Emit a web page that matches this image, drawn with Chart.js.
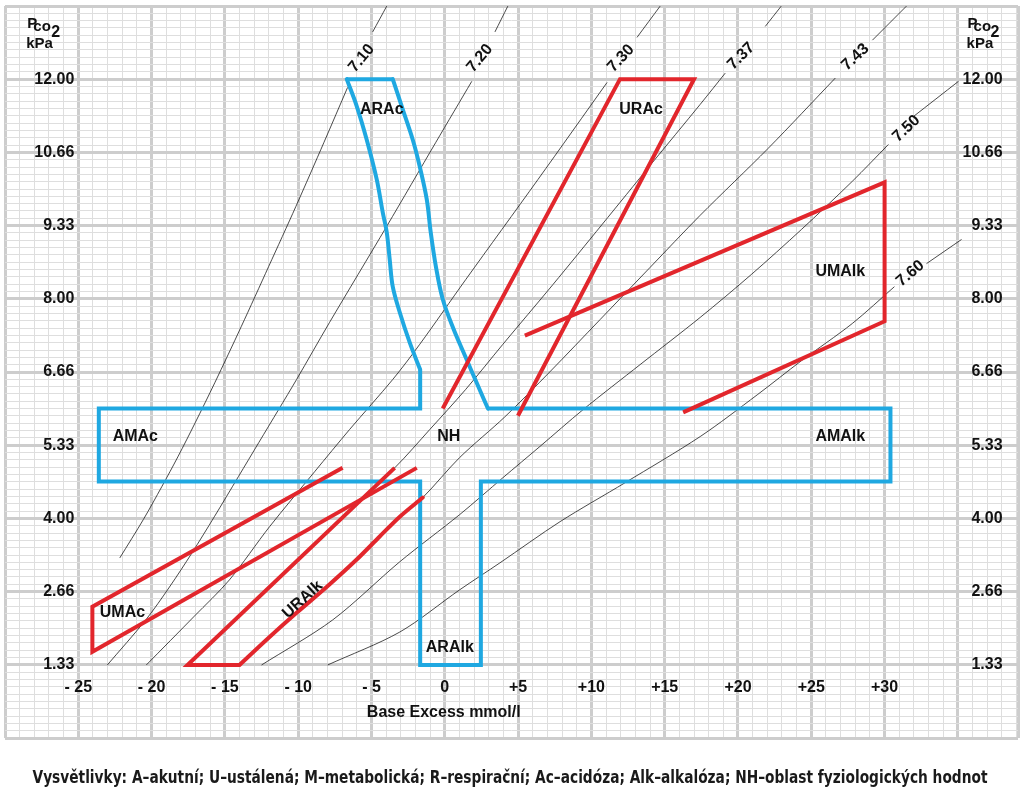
<!DOCTYPE html>
<html>
<head>
<meta charset="utf-8">
<script src="https://cdn.jsdelivr.net/npm/chart.js@4.4.0/dist/chart.umd.min.js"></script>
<style>
  html, body { margin: 0; padding: 0; background: #fff; }
  canvas { display: block; }
</style>
</head>
<body>
<canvas id="canvas" width="1024" height="798"></canvas>
<script>
// x = base excess (mmol/l), y = Pco2 (kPa)
var xTicks = [-25, -20, -15, -10, -5, 0, 5, 10, 15, 20, 25, 30];
var xTickLabels = ['- 25', '- 20', '- 15', '- 10', '- 5', '0', '+5', '+10', '+15', '+20', '+25', '+30'];
var yTicks = [1.333, 2.666, 4.0, 5.333, 6.666, 8.0, 9.333, 10.666, 12.0];
var yTickLabels = ['1.33', '2.66', '4.00', '5.33', '6.66', '8.00', '9.33', '10.66', '12.00'];

// pH isopleths (null = break under the label)
var ph710 = [[-3.96,13.33],[-4.92,12.86],null,[-6.63,11.85],[-8.24,10.85],[-10.16,9.68],[-12.01,8.59],[-13.89,7.49],[-15.69,6.47],[-17.03,5.74],[-18.21,5.12],[-19.30,4.58],[-20.56,3.98],[-22.17,3.28]];
var ph720 = [[4.30,13.33],[3.42,12.86],null,[1.84,11.96],[-0.61,10.85],[-3.96,9.32],[-7.86,7.57],[-10.11,6.53],[-11.34,5.98],[-12.69,5.38],[-14.08,4.76],[-15.72,4.03],[-17.25,3.37],[-18.78,2.75],[-20.40,2.15],[-23.02,1.33]];
var ph730 = [[14.69,13.33],[13.11,12.76],null,[11.07,11.94],[6.35,10.17],[1.43,8.35],[-1.71,7.17],[-3.55,6.53],[-6.49,5.62],[-8.88,4.85],[-11.95,3.85],[-14.69,2.88],[-17.08,2.22],[-20.36,1.33]];
var ph737 = [[22.95,13.33],[21.86,12.96],null,[19.13,12.11],[17.42,11.54],[14.07,10.45],[10.72,9.35],[7.38,8.26],[3.96,7.17],[1.43,6.35],[-1.02,5.62],[-3.42,4.92],[-10.59,3.10],[-17.55,1.33]];
var ph743 = [[31.49,13.33],[29.17,12.71],null,[26.64,12.02],[22.06,10.74],[17.42,9.52],[14.00,8.57],[10.59,7.62],[7.17,6.67],[4.10,5.85],[1.02,5.11],[-1.50,4.38],[-3.07,4.03],[-4.44,3.67],[-6.01,3.25],[-8.06,2.75],[-10.11,2.28],[-12.16,1.79],[-14.00,1.33]];
var ph750 = [[35.04,11.96],[31.97,11.32],null,[30.26,10.81],[27.80,10.14],[24.32,9.26],[20.90,8.44],[17.42,7.66],[13.32,6.80],[9.43,5.98],[6.49,5.31],[3.96,4.74],[1.02,4.07],[-3.07,3.21],[-7.65,2.15],[-12.50,1.33]];
var ph760 = [[35.25,9.08],[32.86,8.64],null,[30.67,8.22],[27.80,7.55],[24.32,6.87],[21.31,6.25],[17.42,5.49],[12.30,4.65],[7.86,3.94],[3.76,3.19],[1.02,2.70],[-3.07,1.93],[-7.99,1.33]];
var phNames = ['7.10', '7.20', '7.30', '7.37', '7.43', '7.50', '7.60'];

// acute zones (blue): AMAc / NH / AMAlk band with ARAlk below, ARAc above
var blueBand = [[2.94,6.0],[30.4,6.0],[30.4,4.67],[2.46,4.67],[2.46,1.33],[-1.68,1.33],[-1.68,4.67],[-23.6,4.67],[-23.6,6.0],[-1.68,6.0],[-1.68,6.71]];
var aracTop = [[-6.69,12.0],[-3.55,12.0]];
var aracRight = [[-3.55,12.0],[-2.87,11.45],[-2.19,10.90],[-1.71,10.41],[-1.23,9.81],[-0.96,9.21],[-0.61,8.59],[-0.14,7.99],[0.61,7.44],[1.43,6.93],[2.19,6.46],[2.94,6.0]];
var aracLeft = [[-1.68,6.71],[-2.39,7.20],[-3.07,7.75],[-3.55,8.22],[-3.76,8.72],[-3.96,9.21],[-4.23,9.57],[-4.64,10.17],[-5.33,10.90],[-6.01,11.51],[-6.69,12.0]];
// steady-state zones (red)
var zoneURAc = [[-0.14,6.0],[11.95,12.0],[17.0,12.0],[4.99,5.87]];
var zoneUMAlk = [[5.46,7.33],[30.0,10.12],[30.0,7.59],[16.26,5.93]];
var zoneUMAc = [[-6.97,4.92],[-24.04,2.39],[-24.04,1.57],[-1.91,4.92]];
var uralkEdge = [[-3.42,4.92],[-17.55,1.33],[-14.0,1.33]];
var uralkCurve = [[-14.0,1.33],[-12.16,1.79],[-10.11,2.28],[-8.06,2.75],[-6.01,3.25],[-4.44,3.67],[-3.07,4.03],[-1.50,4.38]];

var kPaPerMmHg = 0.133322;
var RED = '#e2262c';
var BLUE = '#1fa8e1';
var FONT = '"Liberation Sans", Arial, Helvetica, sans-serif';

var phLabelPos = [
   { be: -5.67, kpa: 12.38, rot: -50 },
   { be: 2.39, kpa: 12.38, rot: -50 },
   { be: 12.02, kpa: 12.38, rot: -47 },
   { be: 20.22, kpa: 12.42, rot: -45 },
   { be: 28.01, kpa: 12.40, rot: -43 },
   { be: 31.49, kpa: 11.10, rot: -43 },
   { be: 31.76, kpa: 8.46, rot: -40 }
];
var zoneLabels = [
   { text: 'ARAc', be: -4.30, kpa: 11.45, rot: 0 },
   { text: 'URAc', be: 13.39, kpa: 11.45, rot: 0 },
   { text: 'UMAlk', be: 26.98, kpa: 8.50, rot: 0 },
   { text: 'AMAc', be: -21.11, kpa: 5.49, rot: 0 },
   { text: 'NH', be: 0.27, kpa: 5.49, rot: 0 },
   { text: 'AMAlk', be: 26.98, kpa: 5.49, rot: 0 },
   { text: 'UMAc', be: -21.99, kpa: 2.28, rot: 0 },
   { text: 'URAlk', be: -9.70, kpa: 2.52, rot: -42 },
   { text: 'ARAlk', be: 0.34, kpa: 1.64, rot: 0 }
];
var footnote = 'Vysvětlivky: A–akutní; U–ustálená; M–metabolická; R–respirační; Ac–acidóza; Alk–alkalóza; NH–oblast fyziologických hodnot';

function pts(list) {
   return list.map(function (p) { return p ? { x: p[0], y: p[1] } : { x: null, y: null }; });
}

function outline(list, color, order, tension) {
   return {
      data: pts(list), showLine: true, borderColor: color, borderWidth: 4, pointRadius: 0,
      borderJoinStyle: 'miter', borderCapStyle: tension ? 'round' : 'butt', tension: tension || 0, order: order
   };
}

var datasets = [
   outline(zoneURAc, RED, 0),
   outline(zoneUMAlk, RED, 0),
   outline(zoneUMAc, RED, 0),
   outline(uralkEdge, RED, 0),
   outline(uralkCurve, RED, 0, 0.3),
   outline(blueBand, BLUE, 1),
   outline(aracTop, BLUE, 1),
   outline(aracRight, BLUE, 1, 0.35),
   outline(aracLeft, BLUE, 1, 0.35)
];
[ph710, ph720, ph730, ph737, ph743, ph750, ph760].forEach(function (l) {
   datasets.push({ data: pts(l), showLine: true, borderColor: 'rgba(30,30,30,0.8)', borderWidth: 1, pointRadius: 0, tension: 0.3, order: 2 });
});

var whiteBg = {
   id: 'whiteBg',
   beforeDraw: function (chart) {
      var c = chart.ctx;
      c.save();
      c.fillStyle = '#fff';
      c.fillRect(0, 0, chart.width, chart.height);
      c.restore();
   }
};

var nomogramText = {
   id: 'nomogramText',
   afterDatasetsDraw: function (chart) {
      var c = chart.ctx, xs = chart.scales.x, ys = chart.scales.y;
      function px(be) { return xs.getPixelForValue(be); }
      function py(k) { return ys.getPixelForValue(k); }
      c.save();
      c.fillStyle = '#111';
      c.font = 'bold 16px ' + FONT;

      // y tick labels, both sides
      c.textAlign = 'right';
      c.textBaseline = 'middle';
      yTicks.forEach(function (v, i) {
         c.fillText(yTickLabels[i], px(-25.27), py(v));
         c.fillText(yTickLabels[i], px(38.05), py(v));
      });
      // x tick labels
      c.textAlign = 'center';
      xTicks.forEach(function (v, i) {
         c.fillText(xTickLabels[i], px(v), py(0.912));
      });
      c.fillText('Base Excess mmol/l', px(-0.07), py(0.456));

      // axis unit: Pco2 / kPa
      c.textAlign = 'left';
      c.textBaseline = 'alphabetic';
      [[-28.48, -28.07, -26.84, -28.55], [35.66, 36.07, 37.23, 35.59]].forEach(function (h) {
         c.font = 'bold 15px ' + FONT;
         c.fillText('P', px(h[0]), py(12.93));
         c.font = 'bold 15px ' + FONT;
         c.fillText('co', px(h[1]), py(12.87));
         c.font = 'bold 16px ' + FONT;
         c.fillText('2', px(h[2]), py(12.76));
         c.font = 'bold 15px ' + FONT;
         c.fillText('kPa', px(h[3]), py(12.56));
      });

      // zone and pH labels
      c.font = 'bold 16px ' + FONT;
      c.textAlign = 'center';
      c.textBaseline = 'middle';
      var all = zoneLabels.concat(phLabelPos.map(function (p, i) {
         return { text: phNames[i], be: p.be, kpa: p.kpa, rot: p.rot };
      }));
      all.forEach(function (l) {
         c.save();
         c.translate(px(l.be), py(l.kpa));
         c.rotate(l.rot * Math.PI / 180);
         c.fillText(l.text, 0, 0);
         c.restore();
      });

      // footnote under the chart
      c.font = 'bold 17px "Liberation Sans Narrow", "DejaVu Sans Condensed", ' + FONT;
      c.fillStyle = '#1a1a1a';
      var w = c.measureText(footnote).width;
      c.translate(510, chart.height - 19);
      c.scale(955 / w, 1);
      c.fillText(footnote, 0, 0);
      c.restore();
   }
};

function gridColor(major) { return major ? '#cdcdcd' : '#dedede'; }

var config = {
   type: 'scatter',
   data: { datasets: datasets },
   options: {
      responsive: false,
      animation: false,
      events: [],
      layout: { padding: { left: 5, right: 6, top: 6, bottom: 60 } },
      plugins: { legend: { display: false }, tooltip: { enabled: false } },
      scales: {
         x: {
            type: 'linear', min: -30, max: 39.1,
            afterBuildTicks: function (scale) {
               var t = [];
               for (var v = -30; v <= 39; v++) t.push({ value: v });
               t.push({ value: 39.1 });
               scale.ticks = t;
            },
            ticks: { display: false, autoSkip: false },
            border: { display: false },
            grid: {
               drawTicks: false,
               color: function (ctx) { var v = ctx.tick.value; return gridColor(v % 5 === 0 || v > 39); },
               lineWidth: function (ctx) { var v = ctx.tick.value; return (v % 5 === 0 || v > 39) ? 3 : 1; }
            }
         },
         y: {
            type: 'linear', min: 0, max: 100 * kPaPerMmHg,
            afterBuildTicks: function (scale) {
               var t = [];
               for (var i = 0; i <= 100; i++) t.push({ value: i * kPaPerMmHg });
               scale.ticks = t;
            },
            ticks: { display: false, autoSkip: false },
            border: { display: false },
            grid: {
               drawTicks: false,
               color: function (ctx) { return gridColor(ctx.index % 10 === 0); },
               lineWidth: function (ctx) { return ctx.index % 10 === 0 ? 3 : 1; }
            }
         }
      }
   },
   plugins: [whiteBg, nomogramText]
};

window.nomogram = new Chart(document.getElementById('canvas'), config);
</script>
</body>
</html>
